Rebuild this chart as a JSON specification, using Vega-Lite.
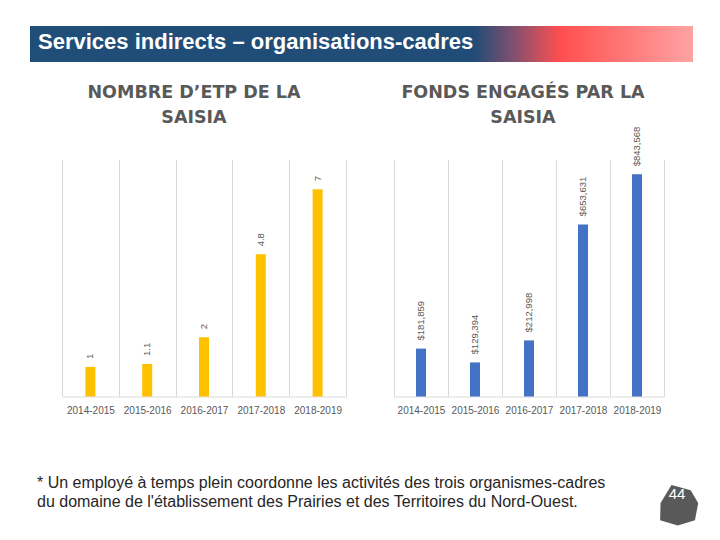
{
  "$schema": "https://vega.github.io/schema/vega-lite/v6.json",
  "padding": {"left": 30, "top": 26, "right": 0, "bottom": 0},
  "background": "white",
  "config": {
    "view": {"stroke": null},
    "font": "Liberation Sans"
  },
  "bounds": "flush",
  "spacing": 97.5,
  "vconcat": [
    {
      "width": 663,
      "height": 36,
      "data": {"values": [{"title": "Services indirects – organisations-cadres"}]},
      "layer": [
        {
          "mark": {
            "type": "rect",
            "stroke": null,
            "fill": {
              "gradient": "linear",
              "x1": 0, "y1": 0, "x2": 1, "y2": 0,
              "stops": [
                {"offset": 0, "color": "#1F4E79"},
                {"offset": 0.67, "color": "#214C77"},
                {"offset": 0.73, "color": "#83506F"},
                {"offset": 0.8, "color": "#FF4F4F"},
                {"offset": 1, "color": "#FFA3A3"}
              ]
            }
          },
          "encoding": {
            "x": {"datum": 0, "type": "quantitative", "scale": {"domain": [0, 1], "nice": false, "zero": false}, "axis": null},
            "x2": {"datum": 1},
            "y": {"datum": 0, "type": "quantitative", "scale": {"domain": [0, 1], "nice": false, "zero": false}, "axis": null},
            "y2": {"datum": 1}
          }
        },
        {
          "mark": {"type": "text", "align": "left", "baseline": "middle", "dx": 8, "dy": -2, "fontSize": 22, "fontWeight": "bold", "color": "white", "font": "Liberation Sans"},
          "encoding": {
            "x": {"datum": 0, "type": "quantitative"},
            "y": {"datum": 0.5, "type": "quantitative"},
            "text": {"field": "title"}
          }
        }
      ]
    },
    {
      "width": 663,
      "height": 237,
      "resolve": {"scale": {"x": "independent", "y": "independent"}, "axis": {"x": "independent", "y": "independent"}},
      "layer": [
        {
          "data": {"values": [
            {"year": "2014-2015", "etp": 1},
            {"year": "2015-2016", "etp": 1.1},
            {"year": "2016-2017", "etp": 2},
            {"year": "2017-2018", "etp": 4.8},
            {"year": "2018-2019", "etp": 7}
          ]},
          "layer": [
            {
              "mark": {"type": "bar", "width": 10, "color": "#FFC000"},
              "encoding": {
                "x": {
                  "field": "year", "type": "nominal",
                  "scale": {"range": [32, 316], "paddingInner": 0, "paddingOuter": 0},
                  "axis": {"orient": "bottom", "title": null, "labelAngle": 0, "tickBand": "extent", "grid": true, "gridColor": "#D9D9D9", "ticks": false, "domainColor": "#D9D9D9", "labelColor": "#595959", "labelFontSize": 10, "labelPadding": 9, "labelFont": "Liberation Sans"}
                },
                "y": {"field": "etp", "type": "quantitative", "scale": {"domain": [0, 8], "nice": false}, "axis": null}
              }
            },
            {
              "mark": {"type": "text", "angle": 270, "align": "left", "baseline": "middle", "dx": 8, "fontSize": 9.5, "color": "#595959", "font": "Liberation Sans"},
              "encoding": {
                "x": {"field": "year", "type": "nominal"},
                "y": {"field": "etp", "type": "quantitative"},
                "text": {"field": "etp", "type": "quantitative", "format": ".2~f"}
              }
            },
            {
              "data": {"values": [{"t": "NOMBRE D’ETP DE LA\nSAISIA"}]},
              "mark": {"type": "text", "font": "DejaVu Sans", "fontWeight": "bold", "fontSize": 17.5, "color": "#595959", "align": "center", "baseline": "alphabetic", "lineBreak": "\n", "lineHeight": 24.5, "dx": -10, "dy": -61.5},
              "encoding": {
                "x": {"datum": "2016-2017", "type": "nominal"},
                "y": {"datum": 8, "type": "quantitative"},
                "text": {"field": "t"}
              }
            }
          ]
        },
        {
          "data": {"values": [
            {"year": "2014-2015", "fonds": 181859},
            {"year": "2015-2016", "fonds": 129394},
            {"year": "2016-2017", "fonds": 212998},
            {"year": "2017-2018", "fonds": 653631},
            {"year": "2018-2019", "fonds": 843568}
          ]},
          "layer": [
            {
              "mark": {"type": "bar", "width": 10, "color": "#4472C4"},
              "encoding": {
                "x": {
                  "field": "year", "type": "nominal",
                  "scale": {"range": [364, 634], "paddingInner": 0, "paddingOuter": 0},
                  "axis": {"orient": "bottom", "title": null, "labelAngle": 0, "tickBand": "extent", "grid": true, "gridColor": "#D9D9D9", "ticks": false, "domainColor": "#D9D9D9", "labelColor": "#595959", "labelFontSize": 10, "labelPadding": 9, "labelFont": "Liberation Sans"}
                },
                "y": {"field": "fonds", "type": "quantitative", "scale": {"domain": [0, 900000], "nice": false}, "axis": null}
              }
            },
            {
              "mark": {"type": "text", "angle": 270, "align": "left", "baseline": "middle", "dx": 8, "fontSize": 9.5, "color": "#595959", "font": "Liberation Sans"},
              "encoding": {
                "x": {"field": "year", "type": "nominal"},
                "y": {"field": "fonds", "type": "quantitative"},
                "text": {"field": "fonds", "type": "quantitative", "format": "$,.0f"}
              }
            },
            {
              "data": {"values": [{"t": "FONDS ENGAGÉS PAR LA\nSAISIA"}]},
              "mark": {"type": "text", "font": "DejaVu Sans", "fontWeight": "bold", "fontSize": 17.5, "color": "#595959", "align": "center", "baseline": "alphabetic", "lineBreak": "\n", "lineHeight": 24.5, "dx": -6, "dy": -61.5},
              "encoding": {
                "x": {"datum": "2016-2017", "type": "nominal"},
                "y": {"datum": 900000, "type": "quantitative"},
                "text": {"field": "t"}
              }
            }
          ]
        }
      ]
    },
    {
      "width": 663,
      "height": 36,
      "data": {"values": [{"note": "* Un employé à temps plein coordonne les activités des trois organismes-cadres\ndu domaine de l'établissement des Prairies et des Territoires du Nord-Ouest.", "page": "44"}]},
      "layer": [
        {
          "mark": {"type": "text", "align": "left", "baseline": "alphabetic", "dx": 7, "dy": -6, "fontSize": 16, "lineBreak": "\n", "lineHeight": 19.3, "color": "#262626", "font": "Liberation Sans"},
          "encoding": {
            "x": {"datum": 0, "type": "quantitative", "scale": {"domain": [0, 1], "nice": false, "zero": false}, "axis": null},
            "y": {"datum": 1, "type": "quantitative", "scale": {"domain": [0, 1], "nice": false, "zero": false}, "axis": null},
            "text": {"field": "note"}
          }
        },
        {
          "mark": {"type": "point", "shape": "M -0.29 -0.88 L 0.6 -0.64 L 0.95 -0.05 L 0.8 0.75 L 0 1 L -0.82 0.75 L -0.8 -0.05 Z", "filled": true, "color": "#595959", "opacity": 1, "size": 1849},
          "encoding": {
            "x": {"datum": 0.977, "type": "quantitative"},
            "y": {"datum": 0.722, "type": "quantitative"}
          }
        },
        {
          "mark": {"type": "text", "align": "center", "baseline": "middle", "fontSize": 15, "color": "white", "font": "Liberation Sans"},
          "encoding": {
            "x": {"datum": 0.976, "type": "quantitative"},
            "y": {"datum": 1, "type": "quantitative"},
            "text": {"field": "page"}
          }
        }
      ]
    }
  ]
}
